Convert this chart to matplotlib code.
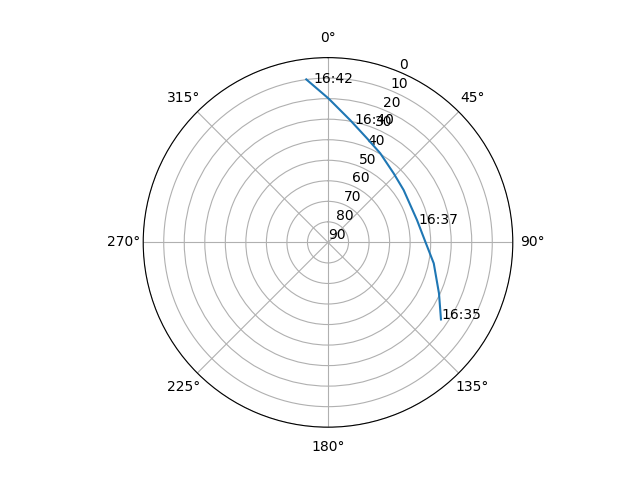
import numpy as np
import matplotlib
matplotlib.use('Agg')
import matplotlib.pyplot as plt

# satellite track: azimuth (deg, clockwise from north) and elevation (deg)
track_az = [124.3, 114.7, 101.2, 89.6, 76.0, 55.3, 43.6, 30.4, 20.6,
            10.3, 0.2, 352.4]
track_el = [23.4, 30.5, 37.5, 42.6, 45.3, 45.2, 43.6, 39.7, 35.9,
            29.5, 19.9, 9.9]

# time labels along the track
label_time = ['16:35', '16:37', '16:40', '16:42']
label_az = [124.3, 78.6, 12.5, 354.7]
label_el = [23.4, 45.0, 31.0, 12.2]

elev_ticks = [0, 10, 20, 30, 40, 50, 60, 70, 80, 90]

if __name__ == '__main__':
    fig = plt.figure(figsize=(6.4, 4.8), dpi=100)
    ax = fig.add_subplot(projection='polar')
    ax.set_theta_zero_location('N')
    ax.set_theta_direction(-1)

    ax.plot(np.radians(track_az), track_el)
    for t, a, e in zip(label_time, label_az, label_el):
        ax.text(np.radians(a), e, t)

    ax.set_ylim(90, 0)
    ax.set_yticks(elev_ticks)
    fig.savefig('out.png')
